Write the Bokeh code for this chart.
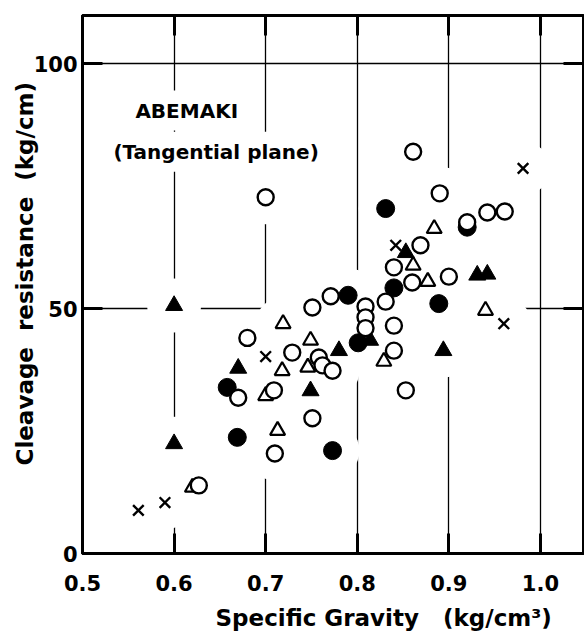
from bokeh.plotting import figure
from bokeh.models import LinearAxis, Range1d, FixedTicker, Label, Title
from bokeh.embed import file_html
from bokeh.resources import INLINE

# ---- data ----
open_circle_x = [0.627, 0.670, 0.680, 0.700, 0.709, 0.710, 0.729, 0.751, 0.751, 0.758,
                 0.762, 0.773, 0.771, 0.809, 0.809, 0.809, 0.831, 0.840, 0.840, 0.840,
                 0.853, 0.860, 0.861, 0.869, 0.890, 0.900, 0.920, 0.942, 0.961]
open_circle_y = [13.9, 31.8, 44.0, 72.7, 33.3, 20.4, 41.0, 50.2, 27.6, 40.0,
                 38.4, 37.3, 52.5, 50.4, 48.2, 46.0, 51.4, 58.4, 46.5, 41.4,
                 33.3, 55.3, 82.0, 62.9, 73.5, 56.5, 67.6, 69.6, 69.8]

filled_circle_x = [0.658, 0.669, 0.773, 0.790, 0.801, 0.831, 0.840, 0.889, 0.920]
filled_circle_y = [33.9, 23.7, 21.0, 52.7, 43.0, 70.4, 54.2, 51.0, 66.6]

filled_tri_x = [0.600, 0.600, 0.670, 0.749, 0.780, 0.814, 0.853, 0.894, 0.931, 0.942]
filled_tri_y = [50.6, 22.4, 37.8, 33.2, 41.4, 43.5, 61.4, 41.4, 56.8, 57.0]

open_tri_x = [0.620, 0.700, 0.713, 0.718, 0.719, 0.746, 0.749, 0.829, 0.861, 0.877, 0.884, 0.940]
open_tri_y = [13.5, 32.2, 25.1, 37.3, 46.9, 38.0, 43.5, 39.2, 58.8, 55.5, 66.3, 49.6]

cross_x = [0.561, 0.590, 0.700, 0.842, 0.960, 0.981]
cross_y = [8.8, 10.4, 40.2, 62.9, 46.9, 78.6]

x_ticks = [0.5, 0.6, 0.7, 0.8, 0.9, 1.0]
x_tick_labels = ["0.5", "0.6", "0.7", "0.8", "0.9", "1.0"]
y_ticks = [0, 50, 100]
y_tick_labels = ["0", "50", "100"]

NB = "\u00a0"
title_1 = "ABEMAKI"
title_2 = "(Tangential plane)"
x_title = "Specific Gravity" + NB * 3 + "(kg/cm\u00b3)"
y_title = "Cleavage" + NB * 2 + "resistance" + NB * 2 + "(kg/cm)"

FONT = "DejaVu Sans"

p = figure(width=584, height=641, x_range=Range1d(0.5, 1.047), y_range=Range1d(0, 109.8),
           output_backend="svg", toolbar_location=None,
           min_border_left=82, min_border_right=1, min_border_top=15, min_border_bottom=88)
p.background_fill_color = "white"
p.border_fill_color = "white"
p.outline_line_color = "black"
p.outline_line_width = 3

# grid
p.xgrid.ticker = FixedTicker(ticks=x_ticks[1:])
p.ygrid.ticker = FixedTicker(ticks=y_ticks[1:])
for g in (p.xgrid, p.ygrid):
    g.grid_line_color = "black"
    g.grid_line_width = 1.3

def style_axis(ax, ticks, labels, show_labels, standoff):
    ax.ticker = FixedTicker(ticks=ticks)
    ax.major_label_overrides = {t: l for t, l in zip(ticks, labels)}
    ax.major_tick_in = 20
    ax.major_tick_out = 0
    ax.major_tick_line_width = 3
    ax.major_tick_line_color = "black"
    ax.minor_tick_line_color = None
    ax.axis_line_width = 3
    ax.axis_line_color = "black"
    ax.major_label_text_font = FONT
    ax.major_label_standoff = standoff
    if show_labels:
        ax.major_label_text_font_size = "21px"
        ax.major_label_text_font_style = "bold"
        ax.major_label_text_color = "black"
    else:
        ax.major_label_text_font_size = "1px"
        ax.major_label_text_color = None
        ax.major_label_standoff = 0

style_axis(p.xaxis[0], x_ticks, x_tick_labels, True, 21)
style_axis(p.yaxis[0], y_ticks, y_tick_labels, True, 5)

top = LinearAxis()
style_axis(top, x_ticks, x_tick_labels, False, 0)
p.add_layout(top, "above")
right = LinearAxis()
style_axis(right, y_ticks, y_tick_labels, False, 0)
p.add_layout(right, "right")

# axis titles
p.add_layout(Title(text=x_title, align="left", offset=133, standoff=18,
                   text_font=FONT, text_font_style="bold", text_font_size="23px",
                   text_color="black"), "below")
p.add_layout(Title(text=y_title, align="left", offset=88, standoff=-14,
                   text_font=FONT, text_font_style="bold", text_font_size="23px",
                   text_color="black"), "left")

# white halos that interrupt the grid lines around the points (as in the print)
all_x = open_circle_x + filled_circle_x + filled_tri_x + open_tri_x + cross_x
all_y = open_circle_y + filled_circle_y + filled_tri_y + open_tri_y + cross_y
p.scatter(all_x, all_y, size=54, marker="circle", fill_color="white", line_color=None)

# markers
p.scatter(open_tri_x, open_tri_y, marker="triangle", size=15, fill_color="white",
          line_color="black", line_width=2.2)
p.scatter(filled_tri_x, filled_tri_y, marker="triangle", size=17, fill_color="black",
          line_color="black", line_width=1)
p.scatter(filled_circle_x, filled_circle_y, marker="circle", size=18, fill_color="black",
          line_color="black", line_width=1)
p.scatter(open_circle_x, open_circle_y, marker="circle", size=16, fill_color="white",
          line_color="black", line_width=2.4)
p.scatter(cross_x, cross_y, marker="x", size=15, line_color="black", line_width=2.4)

# in-plot texts
p.add_layout(Label(x=0.549, y=90.4, text=title_1, text_font=FONT, text_font_style="bold",
                   text_font_size="20px", text_align="left", text_baseline="middle",
                   text_color="black", background_fill_color="white", padding=8))
p.add_layout(Label(x=0.525, y=82.0, text=title_2, text_font=FONT, text_font_style="bold",
                   text_font_size="20px", text_align="left", text_baseline="middle",
                   text_color="black", background_fill_color="white", padding=8))

open("out.html", "w").write(file_html(p, INLINE))
